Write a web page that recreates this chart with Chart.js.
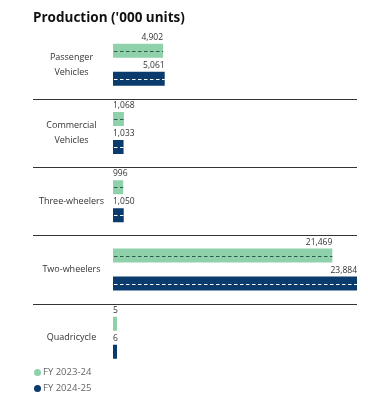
<!DOCTYPE html>
<html lang="en">
<head>
<meta charset="UTF-8">
<title>Production ('000 units)</title>
<script src="https://cdn.jsdelivr.net/npm/chart.js"></script>
<style>
  body { margin: 0; background: #fff; font-family: "Open Sans", sans-serif; }
  #wrap { position: relative; width: 368px; height: 404px; }
  #chart { position: absolute; left: 0; top: 0; }
  #legend { position: absolute; left: 34px; top: 366px; font-size: 9.5px; color: #666; }
  #legend div { height: 16px; line-height: 12px; }
  #legend span { display: inline-block; width: 7px; height: 7px; border-radius: 50%; margin-right: 2px; vertical-align: -0.5px; }
</style>
</head>
<body>
<div id="wrap">
  <canvas id="chart" width="368" height="372"></canvas>
  <div id="legend"></div>
</div>
<script>
// datos
const categorias = [['Passenger', 'Vehicles'], ['Commercial', 'Vehicles'], 'Three-wheelers', 'Two-wheelers', 'Quadricycle'];
const fy2324 = [4902, 1068, 996, 21469, 5];
const fy2425 = [5061, 1033, 1050, 23884, 6];
const series = ['FY 2023-24', 'FY 2024-25'];
const colores = ['#8fd1aa', '#0b3a6c'];
const guiones = ['#2b5a48', '#ffffff'];

// legenda en html
document.getElementById('legend').innerHTML = series.map((s, i) =>
  '<div><span style="background:' + colores[i] + '"></span>' + s + '</div>').join('');

// lineas separadoras, guiones y etiquetas de valor
const extras = {
  id: 'extras',
  beforeDatasetsDraw(chart) {
    const ctx = chart.ctx;
    const y = chart.scales.y;
    ctx.save();
    ctx.strokeStyle = '#333';
    ctx.lineWidth = 1.2;
    for (let i = 1; i < categorias.length; i++) {
      const py = Math.round((y.getPixelForValue(i - 1) + y.getPixelForValue(i)) / 2) + 0.5;
      ctx.beginPath();
      ctx.moveTo(33, py);
      ctx.lineTo(chart.chartArea.right, py);
      ctx.stroke();
    }
    ctx.restore();
  },
  afterDatasetsDraw(chart) {
    const ctx = chart.ctx;
    ctx.save();
    chart.data.datasets.forEach((ds, di) => {
      chart.getDatasetMeta(di).data.forEach((bar, i) => {
        const p = bar.getProps(['x', 'y', 'base', 'height']);
        // guiones
        if (p.x - p.base > 6) {
          ctx.strokeStyle = guiones[di];
          ctx.lineWidth = 1;
          ctx.setLineDash([3.5, 2.5]);
          ctx.beginPath();
          ctx.moveTo(p.base + 1, Math.round(p.y) + 0.5);
          ctx.lineTo(p.x, Math.round(p.y) + 0.5);
          ctx.stroke();
          ctx.setLineDash([]);
        }
        // etiqueta
        const txt = ds.data[i].toLocaleString('en-US');
        ctx.font = '8.5px "Open Sans"';
        ctx.fillStyle = '#333';
        ctx.textBaseline = 'bottom';
        const w = ctx.measureText(txt).width;
        if (w > p.x - p.base) {
          ctx.textAlign = 'left';
          ctx.fillText(txt, p.base, p.y - p.height / 2 - 2);
        } else {
          ctx.textAlign = 'right';
          ctx.fillText(txt, p.x, p.y - p.height / 2 - 2);
        }
      });
    });
    ctx.restore();
  }
};

new Chart(document.getElementById('chart'), {
  type: 'bar',
  data: {
    labels: categorias,
    datasets: [
      { label: series[0], data: fy2324, backgroundColor: colores[0] },
      { label: series[1], data: fy2425, backgroundColor: colores[1] }
    ]
  },
  options: {
    indexAxis: 'y',
    responsive: false,
    animation: false,
    layout: { padding: { left: 33, right: 11, top: 0, bottom: 0 } },
    datasets: { bar: { categoryPercentage: 0.82, barPercentage: 0.5, minBarLength: 4 } },
    plugins: {
      legend: { display: false },
      tooltip: { enabled: false },
      title: {
        display: true,
        text: "Production ('000 units)",
        align: 'start',
        color: '#111',
        font: { family: 'Open Sans', size: 13.5, weight: 'bold', lineHeight: 1.15 },
        padding: { top: 10, bottom: 5 }
      }
    },
    scales: {
      x: { display: false, min: 0, max: 23884 },
      y: {
        grid: { display: false, drawTicks: false },
        border: { display: false },
        afterFit(scale) {
          scale.width = 80;
          scale.paddingTop = 0;
          scale.paddingBottom = 0;
        },
        ticks: {
          crossAlign: 'center',
          padding: 9,
          color: '#333',
          font: { family: 'Open Sans', size: 9, lineHeight: 1.65 }
        }
      }
    }
  },
  plugins: [extras]
});
</script>
</body>
</html>
